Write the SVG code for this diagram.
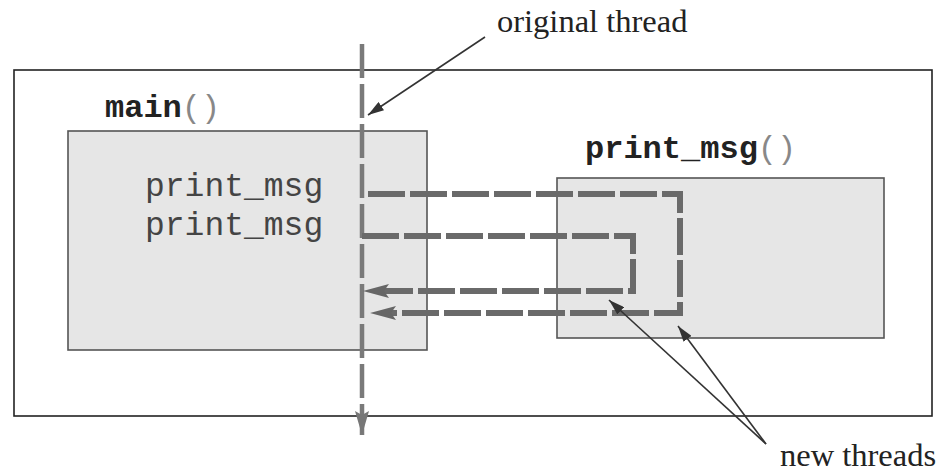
<svg xmlns="http://www.w3.org/2000/svg" width="939" height="472" viewBox="0 0 939 472">
<defs>
<style>
.frame{fill:none;stroke:#222;stroke-width:1.6}
.box{fill:#e6e6e6;stroke:#555;stroke-width:1.6}
.mono{font-family:"Liberation Mono","DejaVu Sans Mono",monospace;font-size:32px;fill:#333}
.code{font-size:33px;fill:#444}
.bold{font-weight:bold;fill:#222}
.paren{fill:#888}
.serif{font-family:"Liberation Serif","Times New Roman",serif;font-size:32.5px;fill:#222}
.thread{fill:none;stroke:#6a6a6a;stroke-width:6;stroke-dasharray:37 5}
.vthread{fill:none;stroke:#7a7a7a;stroke-width:4.5;stroke-dasharray:34 6}
.pointer{fill:none;stroke:#333;stroke-width:1.6}
</style>
<marker id="ahT" markerUnits="userSpaceOnUse" markerWidth="26" markerHeight="18" viewBox="0 0 26 18" refX="10" refY="9" orient="auto">
<path d="M0,2 L26,9 L0,16 L5,9 z" fill="#666"/>
</marker>
<marker id="ahV" markerUnits="userSpaceOnUse" markerWidth="24" markerHeight="14" viewBox="0 0 24 14" refX="24" refY="7" orient="auto">
<path d="M0,0 L24,7 L0,14 L4,7 z" fill="#777"/>
</marker>
<marker id="ahP" markerUnits="userSpaceOnUse" markerWidth="16" markerHeight="10" viewBox="0 0 16 10" refX="16" refY="5" orient="auto">
<path d="M0,0 L16,5 L0,10 z" fill="#333"/>
</marker>
</defs>
<rect width="939" height="472" fill="#ffffff"/>
<g id="frame"><rect class="frame" x="14" y="70" width="918" height="346"/></g>
<g id="main">
<rect class="box" x="68" y="131" width="359" height="219"/>
<text class="mono" x="105" y="117"><tspan class="bold">main</tspan><tspan class="paren">()</tspan></text>
<text class="mono code" x="145" y="196">print_msg</text>
<text class="mono code" x="145" y="235">print_msg</text>
</g>
<g id="print_msg">
<rect class="box" x="557" y="178" width="327" height="160"/>
<text class="mono" x="585" y="158"><tspan class="bold">print_msg</tspan><tspan class="paren">()</tspan></text>
</g>
<g id="labels">
<text class="serif" x="497" y="32">original thread</text>
<text class="serif" x="780" y="466">new threads</text>
</g>
<g id="connectors">
<path class="vthread" d="M362,44 V435" marker-end="url(#ahV)"/>
<path class="thread" d="M368,194 H680 V313 H386" marker-end="url(#ahT)"/>
<path class="thread" d="M362,236 H633 V291 H379" marker-end="url(#ahT)"/>
<path class="pointer" d="M485,37 L368,115" marker-end="url(#ahP)"/>
<path class="pointer" d="M766,444 L609,300" marker-end="url(#ahP)"/>
<path class="pointer" d="M766,444 L678,326" marker-end="url(#ahP)"/>
</g>
</svg>
